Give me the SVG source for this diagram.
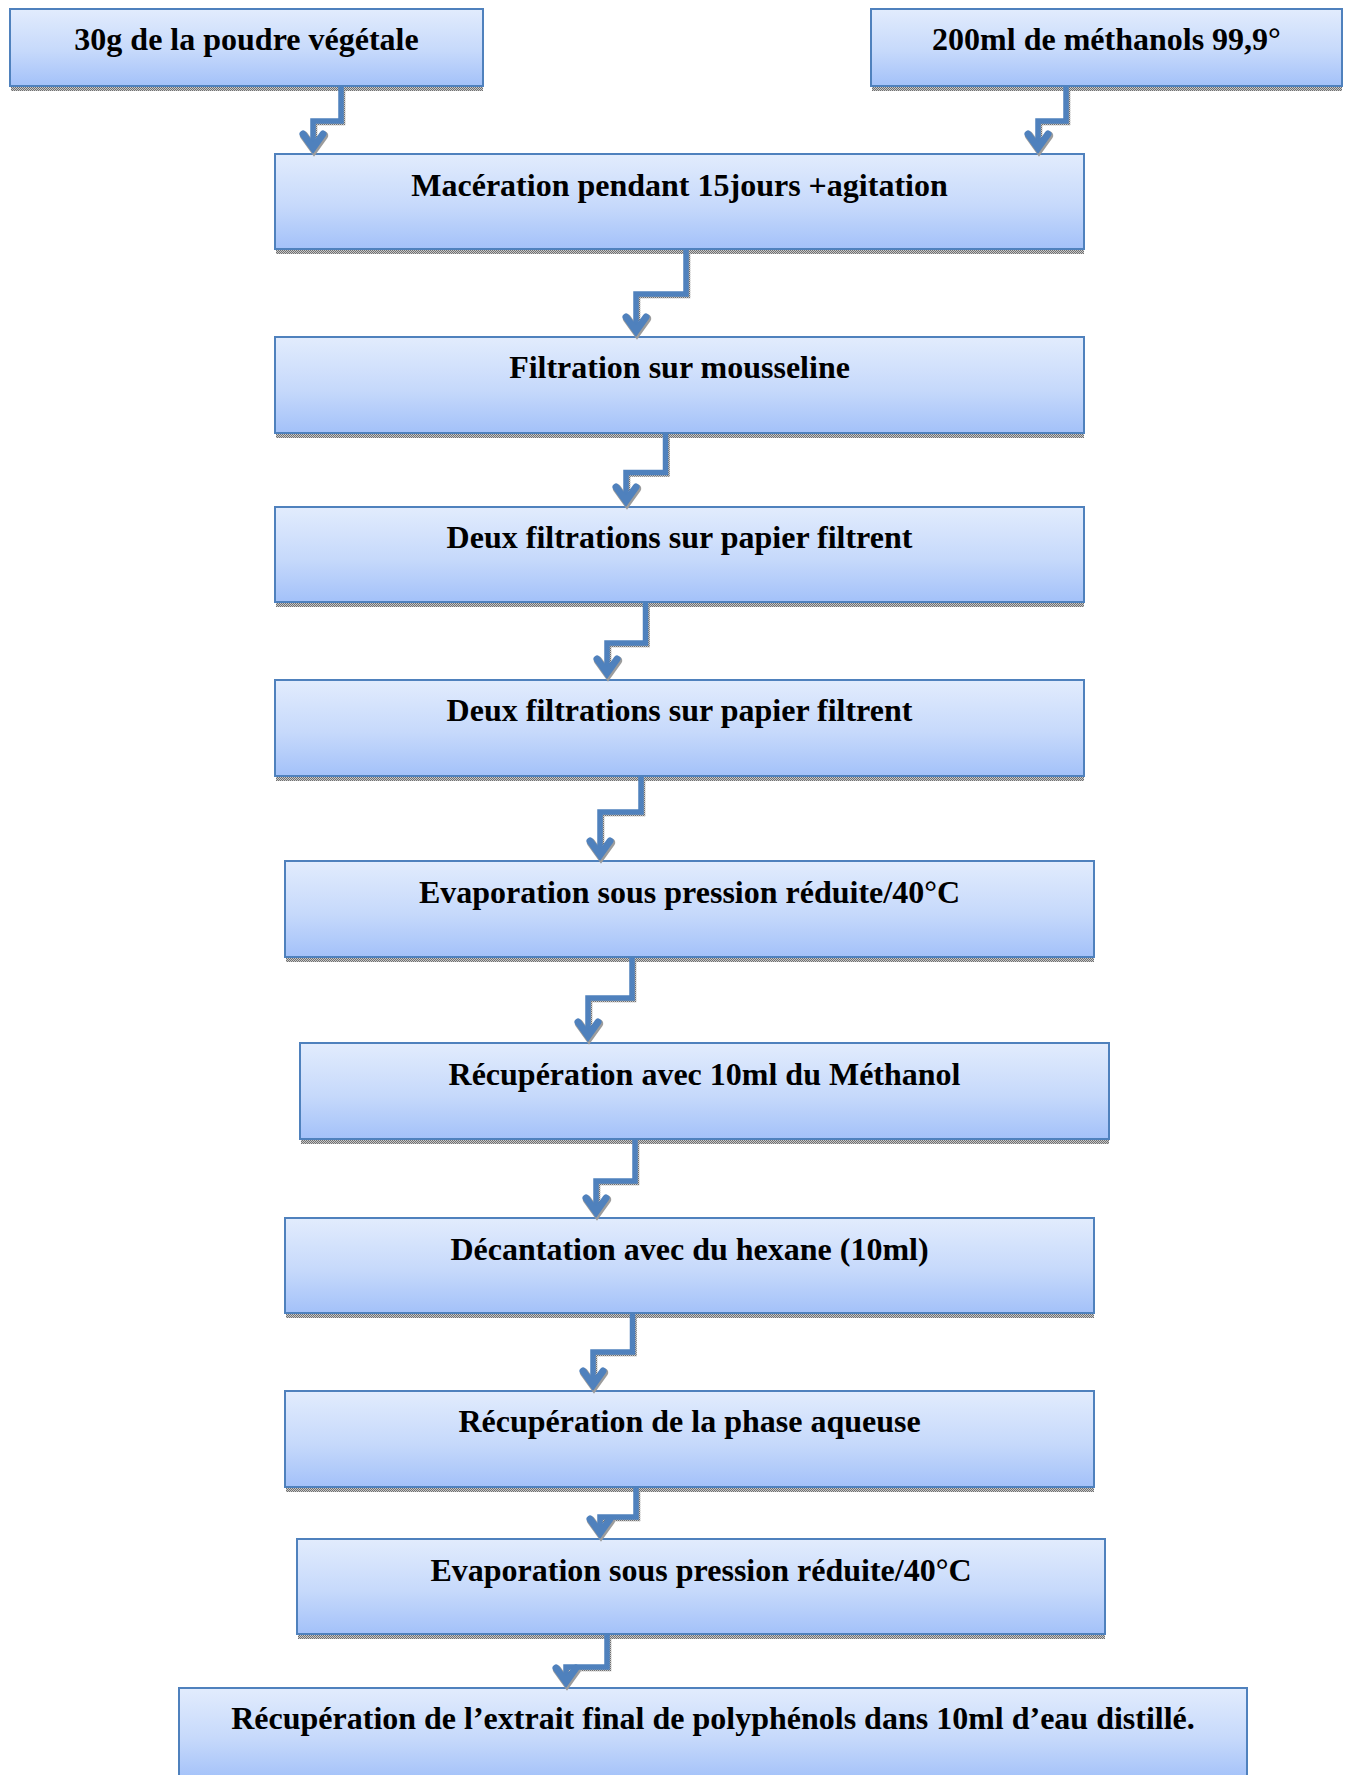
<svg xmlns="http://www.w3.org/2000/svg" width="1351" height="1775" viewBox="0 0 1351 1775">
<defs>
<linearGradient id="g" x1="0" y1="0" x2="0" y2="1">
<stop offset="0" stop-color="#E2ECFD"/>
<stop offset="0.55" stop-color="#C6D9FB"/>
<stop offset="1" stop-color="#A3C1F9"/>
</linearGradient>
<pattern id="dith" width="2" height="2" patternUnits="userSpaceOnUse">
<rect width="2" height="2" fill="#c8c8c8"/>
<rect width="1" height="1" fill="#707070"/>
<rect x="1" y="1" width="1" height="1" fill="#707070"/>
</pattern>
<g id="arrow">
<path d="M-10,-20 L0,-6 L10,-20" fill="none" stroke="#4F81BD" stroke-width="7" stroke-linecap="round" stroke-linejoin="miter" stroke-miterlimit="10"/>
</g>
<g id="arrowsh">
<path d="M-10,-20 L0,-6 L10,-20" fill="none" stroke="url(#dith)" stroke-width="8.5" stroke-linecap="round" stroke-linejoin="miter" stroke-miterlimit="10"/>
</g>
</defs>
<style>
.box{fill:url(#g);stroke:#4F81BD;stroke-width:2}
.sh{fill:url(#dith)}
.lbl{font-family:"Liberation Serif","Times New Roman",serif;font-weight:bold;font-size:32px;text-anchor:middle;fill:#000}
.c{fill:none;stroke:#4F81BD;stroke-width:5.5;stroke-linejoin:miter}
.cs{fill:none;stroke:url(#dith);stroke-width:5.5;stroke-linejoin:miter}
</style>
<rect width="1351" height="1775" fill="#fff"/>

<g id="n1"><rect class="sh" x="11" y="87" width="472" height="4"/><rect class="box" x="10" y="9" width="473" height="77"/><text class="lbl" x="246.5" y="50">30g de la poudre végétale</text></g>
<g id="n2"><rect class="sh" x="872" y="87" width="470" height="4"/><rect class="box" x="871" y="9" width="471" height="77"/><text class="lbl" x="1106.5" y="50">200ml de méthanols 99,9°</text></g>
<g id="n3"><rect class="sh" x="276" y="250" width="808" height="4"/><rect class="box" x="275" y="154" width="809" height="95"/><text class="lbl" x="679.5" y="196">Macération pendant 15jours +agitation</text></g>
<g id="n4"><rect class="sh" x="276" y="434" width="808" height="4"/><rect class="box" x="275" y="337" width="809" height="96"/><text class="lbl" x="679.5" y="378">Filtration sur mousseline</text></g>
<g id="n5"><rect class="sh" x="276" y="603" width="808" height="4"/><rect class="box" x="275" y="507" width="809" height="95"/><text class="lbl" x="679.5" y="548">Deux filtrations sur papier filtrent</text></g>
<g id="n6"><rect class="sh" x="276" y="777" width="808" height="4"/><rect class="box" x="275" y="680" width="809" height="96"/><text class="lbl" x="679.5" y="721">Deux filtrations sur papier filtrent</text></g>
<g id="n7"><rect class="sh" x="286" y="958" width="808" height="4"/><rect class="box" x="285" y="861" width="809" height="96"/><text class="lbl" x="689.5" y="903">Evaporation sous pression réduite/40°C</text></g>
<g id="n8"><rect class="sh" x="301" y="1140" width="808" height="4"/><rect class="box" x="300" y="1043" width="809" height="96"/><text class="lbl" x="704.5" y="1085">Récupération avec 10ml du Méthanol</text></g>
<g id="n9"><rect class="sh" x="286" y="1314" width="808" height="4"/><rect class="box" x="285" y="1218" width="809" height="95"/><text class="lbl" x="689.5" y="1260">Décantation avec du hexane (10ml)</text></g>
<g id="n10"><rect class="sh" x="286" y="1488" width="808" height="4"/><rect class="box" x="285" y="1391" width="809" height="96"/><text class="lbl" x="689.5" y="1432">Récupération de la phase aqueuse</text></g>
<g id="n11"><rect class="sh" x="298" y="1635" width="807" height="4"/><rect class="box" x="297" y="1539" width="808" height="95"/><text class="lbl" x="701" y="1581">Evaporation sous pression réduite/40°C</text></g>
<g id="n12"><rect x="179" y="1688" width="1068" height="92" fill="url(#g)"/><path d="M179,1780 V1688 H1247 V1780" fill="none" stroke="#4F81BD" stroke-width="2"/><text class="lbl" x="713" y="1729">Récupération de l’extrait final de polyphénols dans 10ml d’eau distillé.</text></g>

<g id="connectors">
<path class="cs" d="M342.5,88 V122.5 H314.5 V146"/><use href="#arrowsh" x="314" y="155.5"/>
<path class="c" d="M341,87 V121 H313 V146"/><use href="#arrow" x="313" y="154"/>

<path class="cs" d="M1067.5,88 V122.5 H1039.5 V146"/><use href="#arrowsh" x="1039" y="155.5"/>
<path class="c" d="M1066,87 V121 H1038 V146"/><use href="#arrow" x="1038" y="154"/>

<path class="cs" d="M687.5,251 V295.5 H637.5 V329"/><use href="#arrowsh" x="637" y="338.5"/>
<path class="c" d="M686,250 V294 H636 V329"/><use href="#arrow" x="636" y="337"/>

<path class="cs" d="M667,435 V474 H627.5 V499"/><use href="#arrowsh" x="627" y="508.5"/>
<path class="c" d="M665.5,434 V472.5 H626 V499"/><use href="#arrow" x="626" y="507"/>

<path class="cs" d="M647,604 V644.5 H608.5 V671"/><use href="#arrowsh" x="608" y="680.5"/>
<path class="c" d="M645.5,603 V643 H607 V671"/><use href="#arrow" x="607" y="679"/>

<path class="cs" d="M642.5,778 V813.5 H601.5 V853"/><use href="#arrowsh" x="601" y="862.5"/>
<path class="c" d="M641,777 V812 H600 V853"/><use href="#arrow" x="600" y="861"/>

<path class="cs" d="M633.5,959 V999.5 H589.5 V1034"/><use href="#arrowsh" x="589" y="1043.5"/>
<path class="c" d="M632,958 V998 H588 V1034"/><use href="#arrow" x="588" y="1042"/>

<path class="cs" d="M636.5,1141 V1182.5 H597.5 V1210"/><use href="#arrowsh" x="597" y="1219.5"/>
<path class="c" d="M635,1140 V1181 H596 V1210"/><use href="#arrow" x="596" y="1218"/>

<path class="cs" d="M634,1315 V1353.5 H594.5 V1383"/><use href="#arrowsh" x="594" y="1392.5"/>
<path class="c" d="M632.5,1314 V1352 H593 V1383"/><use href="#arrow" x="593" y="1391"/>

<path class="cs" d="M637.5,1489 V1518.5 H601.5 V1531"/><use href="#arrowsh" x="601" y="1540.5"/>
<path class="c" d="M636,1488 V1517 H600 V1531"/><use href="#arrow" x="600" y="1539"/>

<path class="cs" d="M608.5,1636 V1668.5 H567.5 V1680"/><use href="#arrowsh" x="567" y="1689.5"/>
<path class="c" d="M607,1635 V1667 H566 V1680"/><use href="#arrow" x="566" y="1688"/>
</g>
</svg>
